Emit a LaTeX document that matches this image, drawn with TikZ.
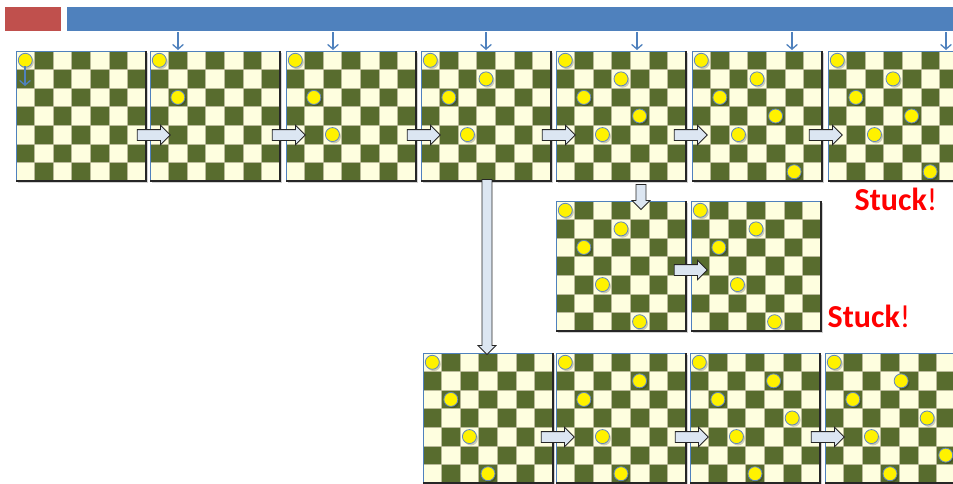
\documentclass[tikz,border=0pt]{standalone}
\usepackage{fontspec}
\setmainfont{Carlito}
\usetikzlibrary{shapes.arrows,arrows.meta,calc}
\definecolor{darksq}{HTML}{586C2E}
\definecolor{lightsq}{HTML}{FEFEDF}
\definecolor{gridc}{HTML}{B9BA98}
\definecolor{barred}{HTML}{C0504D}
\definecolor{barblue}{HTML}{4F81BD}
\definecolor{qedge}{HTML}{5F86BF}
\definecolor{arrfill}{HTML}{DCE6F2}
\def\cs{18.5714}
\tikzset{
  boardnode/.style={rectangle,inner sep=0pt,minimum width=97.5pt,minimum height=97.5pt,fill=lightsq,draw=none,anchor=north west},
  gridln/.style={gridc,line width=0.45pt},
  frameblue/.style={barblue,line width=0.7pt},
  framedark/.style={black!85,line width=0.9pt},
  queen/.style={fill=yellow,draw=qedge,line width=0.6pt},
  qshadow/.style={fill=black,opacity=0.2},
  hblock/.style={single arrow,draw=black!85,fill=arrfill,line width=0.6pt,inner xsep=0pt,inner ysep=3.75pt,
    minimum height=24.75pt,minimum width=14pt,single arrow head extend=3.2pt},
  vblock/.style={single arrow,draw=black!85,fill=arrfill,line width=0.6pt,inner xsep=0pt,inner ysep=3.4pt,
    minimum width=12.75pt,single arrow head extend=3pt,rotate=-90},
  smallarrow/.style={barblue,line width=1pt,-{Straight Barb[length=3.5pt,width=8pt]}},
  stuck/.style={text=red,font=\fontsize{24}{28}\selectfont,inner sep=0pt}
}
\newcommand\drawboard[4]{%
  \fill[black,opacity=0.18] (#2+2,#3+2) rectangle ++(130,130);
  \node[boardnode] (#1) at (#2,#3) {};
  \foreach \c in {0,...,6}{\foreach \r in {0,...,6}{%
    \pgfmathtruncatemacro\p{mod(\c+\r,2)}%
    \ifnum\p=1 \fill[darksq] ({#2+\c*\cs},{#3+\r*\cs}) rectangle ++(\cs,\cs);\fi}}
  \foreach \k in {1,...,6}{\draw[gridln] ({#2+\k*\cs},#3) -- ++(0,130); \draw[gridln] (#2,{#3+\k*\cs}) -- ++(130,0);}
  \draw[frameblue] (#2,#3+130) -- (#2,#3) -- (#2+130,#3);
  \draw[framedark] (#2+130,#3) -- (#2+130,#3+130) -- (#2,#3+130);
  \foreach \c/\r in {#4}{%
    \fill[qshadow] ({#2+(\c+0.5)*\cs+1.5},{#3+(\r+0.5)*\cs+1.8}) circle (7);
    \filldraw[queen] ({#2+(\c+0.5)*\cs},{#3+(\r+0.5)*\cs}) circle (7);}
}
\begin{document}
\begin{tikzpicture}[x=0.75pt,y=-0.75pt]
\useasboundingbox (0,0) rectangle (953,483);
\clip (0,0) rectangle (953,483);
% header bars
\fill[barred] (5,7) rectangle (61,31);
\fill[barblue] (67,7) rectangle (953,31);
% first row
\drawboard{b1}{16}{51}{0/0}
\drawboard{b2}{150}{51}{0/0,1/2}
\drawboard{b3}{286}{51}{0/0,1/2,2/4}
\drawboard{b4}{421}{51}{0/0,1/2,2/4,3/1}
\drawboard{b5}{556}{51}{0/0,1/2,2/4,3/1,4/3}
\drawboard{b6}{692}{51}{0/0,1/2,2/4,3/1,4/3,5/6}
\drawboard{b7}{828}{51}{0/0,1/2,2/4,3/1,4/3,5/6}
% second row
\drawboard{b8}{556}{201}{0/0,1/2,2/4,3/1,4/6}
\drawboard{b9}{691}{201}{0/0,1/2,2/4,3/1,4/6}
% third row
\drawboard{b10}{423}{353}{0/0,1/2,2/4,3/6}
\drawboard{b11}{556}{353}{0/0,1/2,2/4,3/6,4/1}
\drawboard{b12}{690}{353}{0/0,1/2,2/4,3/6,4/1,5/3}
\drawboard{b13}{825}{353}{0/0,1/2,2/4,3/6,3.6/1,5/3,6/5}
% small blue arrows
\draw[smallarrow] (25,66) -- (25,86);
\draw[smallarrow] (178,32) -- (178,50);
\draw[smallarrow] (333,32) -- (333,50);
\draw[smallarrow] (486,32) -- (486,50);
\draw[smallarrow] (637,32) -- (637,50);
\draw[smallarrow] (792,32) -- (792,50);
\draw[smallarrow] (946,32) -- (946,50);
% block arrows
\node[hblock] (a12) at ($(b2.north west)+(1,84)$) {};
\node[hblock] (a23) at ($(b3.north west)+(0,84)$) {};
\node[hblock] (a34) at ($(b4.north west)+(0,84)$) {};
\node[hblock] (a45) at ($(b5.north west)+(0,84)$) {};
\node[hblock] (a56) at ($(b6.north west)+(-4,84)$) {};
\node[hblock] (a67) at ($(b7.north west)+(-5,84)$) {};
\node[hblock] (a89) at ($(b9.north west)+(-3,69)$) {};
\node[hblock] (a1011) at ($(b11.north west)+(-1,84)$) {};
\node[hblock] (a1112) at ($(b12.north west)+(-1,84)$) {};
\node[hblock] (a1213) at ($(b13.north west)+(0,84)$) {};
\node[vblock,minimum height=18.75pt] (v58) at (641,194.5) {};
\node[vblock,minimum height=131.25pt] (v410) at (487,264.5) {};
% stuck labels
\node[stuck] (s1) at (896,199) {\textbf{Stuck}!};
\node[stuck] (s2) at (869,316) {\textbf{Stuck}!};
\end{tikzpicture}
\end{document}
